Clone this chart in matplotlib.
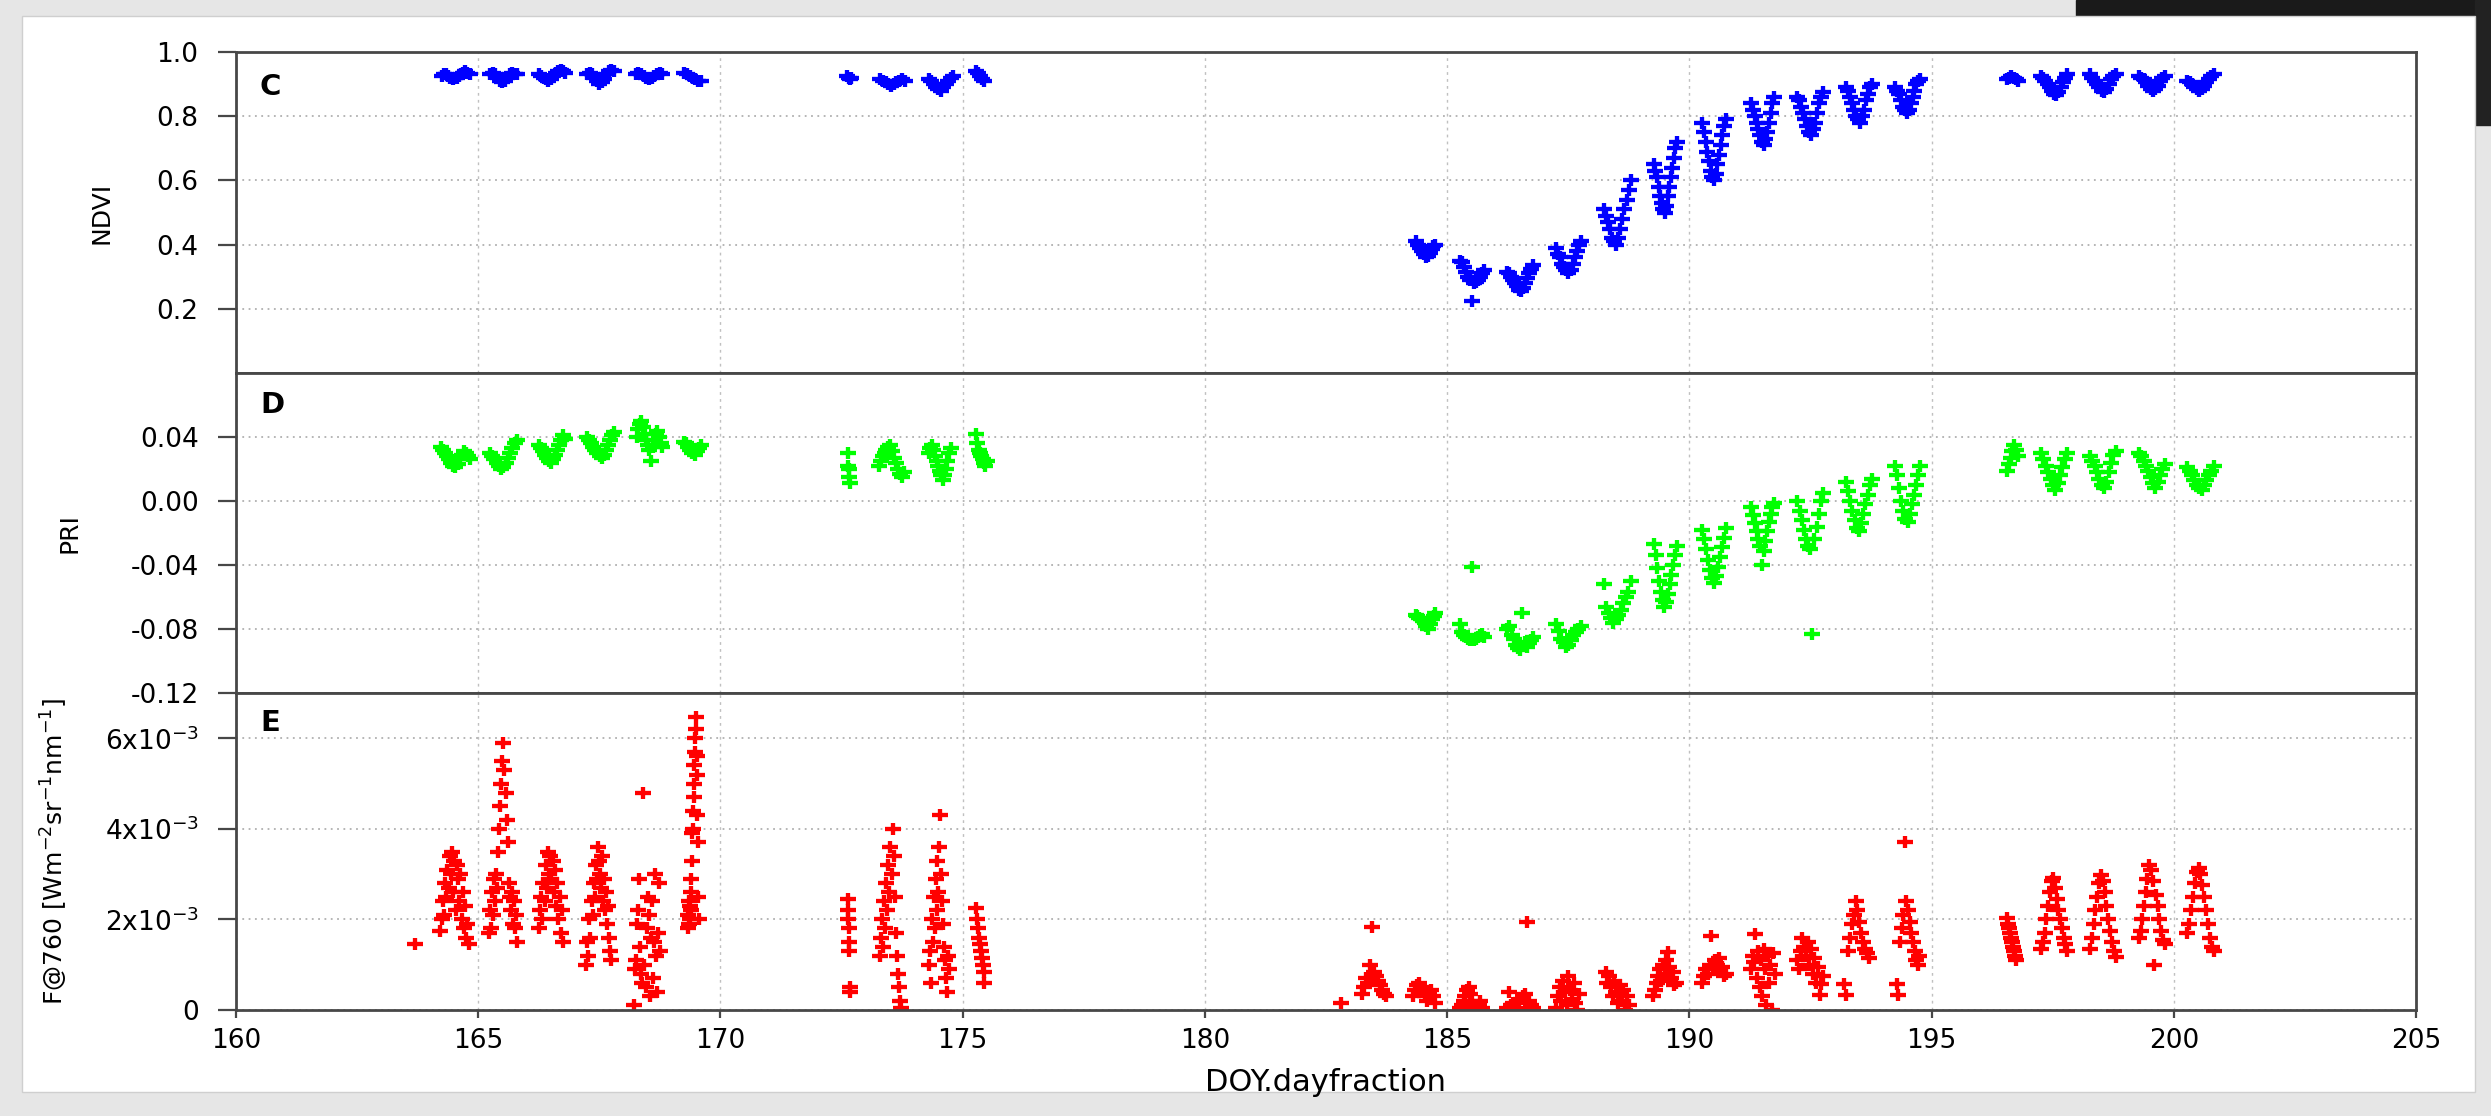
import numpy as np
import matplotlib
matplotlib.use("Agg")
import matplotlib.pyplot as plt
from matplotlib.patches import Rectangle
from matplotlib.path import Path

plt.rcParams['font.family'] = ['DejaVu Sans']
plt.rcParams['mathtext.fontset'] = 'dejavusans'

# ---- data: per-day clusters (start, end of daytime sampling, values in diurnal order)
ndvi_t0 = [164.25, 165.25, 166.25, 167.25, 168.25, 169.25, 172.62, 173.30, 174.30, 175.28,
           184.35, 185.27, 186.24, 187.25, 188.23, 189.27, 190.27, 191.28, 192.23, 193.23,
           194.24, 196.55, 197.26, 198.27, 199.28, 200.28]
ndvi_t1 = [164.82, 165.80, 166.80, 167.80, 168.80, 169.60, 172.70, 173.80, 174.80, 175.45,
           184.76, 185.77, 186.78, 187.76, 188.79, 189.74, 190.75, 191.75, 192.76, 193.77,
           194.77, 196.79, 197.80, 198.80, 199.81, 200.82]
ndvi_vals = [
    [0.925, 0.93, 0.93, 0.925, 0.92, 0.915, 0.918, 0.92, 0.925, 0.93, 0.935, 0.94, 0.935, 0.93],
    [0.93, 0.935, 0.93, 0.92, 0.91, 0.905, 0.91, 0.92, 0.93, 0.935, 0.93, 0.93],
    [0.93, 0.925, 0.92, 0.915, 0.91, 0.915, 0.925, 0.935, 0.94, 0.945, 0.94, 0.935],
    [0.93, 0.935, 0.93, 0.92, 0.91, 0.90, 0.905, 0.915, 0.93, 0.94, 0.945, 0.94],
    [0.93, 0.935, 0.93, 0.925, 0.92, 0.915, 0.92, 0.925, 0.93, 0.935, 0.93],
    [0.935, 0.93, 0.925, 0.92, 0.915, 0.91, 0.91],
    [0.925, 0.92, 0.915, 0.92],
    [0.915, 0.91, 0.905, 0.90, 0.895, 0.90, 0.905, 0.91, 0.915, 0.91],
    [0.915, 0.91, 0.90, 0.89, 0.885, 0.88, 0.89, 0.90, 0.91, 0.92, 0.925],
    [0.94, 0.935, 0.925, 0.915, 0.91],
    [0.41, 0.40, 0.39, 0.38, 0.37, 0.36, 0.365, 0.375, 0.385, 0.395, 0.40],
    [0.35, 0.345, 0.33, 0.315, 0.30, 0.29, 0.225, 0.28, 0.285, 0.29, 0.30, 0.31, 0.32],
    [0.315, 0.31, 0.30, 0.29, 0.28, 0.27, 0.26, 0.255, 0.265, 0.28, 0.295, 0.31, 0.325, 0.335],
    [0.39, 0.37, 0.36, 0.34, 0.33, 0.32, 0.31, 0.32, 0.34, 0.36, 0.38, 0.40, 0.41],
    [0.51, 0.49, 0.47, 0.45, 0.42, 0.41, 0.40, 0.42, 0.45, 0.48, 0.51, 0.54, 0.57, 0.60],
    [0.65, 0.63, 0.61, 0.58, 0.55, 0.53, 0.51, 0.50, 0.52, 0.55, 0.58, 0.61, 0.64, 0.67, 0.70, 0.72],
    [0.78, 0.75, 0.72, 0.69, 0.66, 0.63, 0.61, 0.60, 0.62, 0.65, 0.68, 0.71, 0.74, 0.77, 0.79],
    [0.84, 0.82, 0.80, 0.78, 0.76, 0.74, 0.72, 0.71, 0.73, 0.75, 0.78, 0.81, 0.84, 0.86],
    [0.86, 0.85, 0.83, 0.81, 0.79, 0.77, 0.75, 0.74, 0.76, 0.78, 0.81, 0.84, 0.86, 0.875],
    [0.89, 0.88, 0.86, 0.84, 0.82, 0.80, 0.79, 0.78, 0.80, 0.82, 0.85, 0.87, 0.89, 0.90],
    [0.89, 0.88, 0.87, 0.85, 0.83, 0.82, 0.81, 0.82, 0.84, 0.86, 0.88, 0.90, 0.91, 0.915],
    [0.915, 0.92, 0.925, 0.92, 0.915, 0.91],
    [0.925, 0.92, 0.91, 0.90, 0.89, 0.88, 0.87, 0.865, 0.875, 0.89, 0.905, 0.92, 0.93],
    [0.93, 0.92, 0.91, 0.90, 0.89, 0.88, 0.875, 0.885, 0.90, 0.915, 0.925, 0.93],
    [0.925, 0.92, 0.915, 0.905, 0.895, 0.885, 0.88, 0.885, 0.895, 0.91, 0.92, 0.925],
    [0.91, 0.905, 0.90, 0.89, 0.885, 0.88, 0.885, 0.895, 0.905, 0.915, 0.925, 0.93],
]

pri_t0 = [164.23, 165.24, 166.25, 167.25, 168.27, 169.24, 172.63, 173.27, 174.30, 175.27,
          184.35, 185.27, 186.24, 187.25, 188.23, 189.27, 190.27, 191.28, 192.23, 193.23,
          194.24, 196.55, 197.26, 198.27, 199.28, 200.28]
pri_t1 = [164.83, 165.80, 166.80, 167.80, 168.80, 169.60, 172.67, 173.78, 174.75, 175.50,
          184.76, 185.77, 186.78, 187.76, 188.79, 189.74, 190.75, 191.75, 192.76, 193.77,
          194.77, 196.79, 197.80, 198.80, 199.81, 200.82]
pri_vals = [
    [0.034, 0.032, 0.030, 0.028, 0.026, 0.024, 0.022, 0.021, 0.023, 0.026, 0.029, 0.031, 0.030, 0.028, 0.026],
    [0.030, 0.028, 0.026, 0.024, 0.022, 0.020, 0.021, 0.024, 0.027, 0.030, 0.033, 0.036, 0.038],
    [0.035, 0.033, 0.031, 0.029, 0.027, 0.025, 0.024, 0.026, 0.029, 0.032, 0.035, 0.038, 0.041, 0.039],
    [0.040, 0.038, 0.036, 0.034, 0.032, 0.030, 0.028, 0.027, 0.029, 0.032, 0.035, 0.038, 0.041, 0.043],
    [0.040, 0.045, 0.048, 0.050, 0.046, 0.042, 0.038, 0.035, 0.032, 0.025, 0.034, 0.038, 0.042, 0.044, 0.040, 0.036, 0.034],
    [0.037, 0.036, 0.034, 0.032, 0.030, 0.029, 0.031, 0.033, 0.035],
    [0.030, 0.022, 0.020, 0.015, 0.011],
    [0.022, 0.025, 0.028, 0.030, 0.032, 0.034, 0.035, 0.031, 0.027, 0.024, 0.020, 0.017, 0.015, 0.018],
    [0.030, 0.033, 0.035, 0.032, 0.028, 0.025, 0.022, 0.019, 0.016, 0.013, 0.016, 0.020, 0.025, 0.030, 0.033],
    [0.042, 0.036, 0.032, 0.030, 0.028, 0.026, 0.024, 0.022, 0.025],
    [-0.071, -0.072, -0.073, -0.074, -0.075, -0.076, -0.078, -0.080, -0.077, -0.074, -0.072, -0.070],
    [-0.077, -0.082, -0.084, -0.085, -0.086, -0.087, -0.041, -0.087, -0.086, -0.085, -0.084, -0.083, -0.085],
    [-0.080, -0.078, -0.084, -0.086, -0.090, -0.092, -0.093, -0.070, -0.088, -0.091, -0.089, -0.087, -0.085],
    [-0.077, -0.081, -0.086, -0.088, -0.091, -0.090, -0.087, -0.084, -0.082, -0.080, -0.078],
    [-0.052, -0.066, -0.070, -0.073, -0.076, -0.074, -0.071, -0.068, -0.064, -0.060, -0.057, -0.050],
    [-0.027, -0.034, -0.042, -0.050, -0.057, -0.062, -0.066, -0.063, -0.058, -0.052, -0.046, -0.040, -0.034, -0.028],
    [-0.018, -0.024, -0.030, -0.037, -0.043, -0.048, -0.051, -0.047, -0.041, -0.035, -0.029, -0.023, -0.017],
    [-0.004, -0.009, -0.014, -0.019, -0.024, -0.028, -0.040, -0.031, -0.025, -0.019, -0.013, -0.008, -0.004, -0.001],
    [0.000, -0.006, -0.012, -0.018, -0.024, -0.028, -0.030, -0.083, -0.024, -0.016, -0.008, 0.000, 0.005],
    [0.012, 0.006, 0.000, -0.006, -0.012, -0.017, -0.019, -0.014, -0.008, -0.002, 0.004, 0.010, 0.014],
    [0.022, 0.016, 0.008, 0.000, -0.006, -0.011, -0.013, -0.008, -0.002, 0.004, 0.010, 0.016, 0.022],
    [0.019, 0.023, 0.027, 0.031, 0.035, 0.032, 0.028],
    [0.030, 0.026, 0.022, 0.018, 0.014, 0.010, 0.007, 0.011, 0.016, 0.021, 0.026, 0.030],
    [0.028, 0.025, 0.022, 0.018, 0.014, 0.010, 0.008, 0.012, 0.018, 0.024, 0.029, 0.031],
    [0.030, 0.028, 0.025, 0.022, 0.019, 0.015, 0.011, 0.008, 0.012, 0.016, 0.020, 0.023],
    [0.021, 0.019, 0.016, 0.013, 0.010, 0.008, 0.007, 0.010, 0.013, 0.016, 0.019, 0.022],
]

# F@760 in units of 1e-3 W m-2 sr-1 nm-1
f_t0 = [163.69, 164.22, 165.22, 166.25, 167.23, 168.22, 169.33, 172.63, 173.30, 174.30, 175.28,
        182.80, 183.25, 184.30, 185.27, 186.24, 187.25, 188.27, 189.26, 190.27, 191.28, 192.23,
        193.20, 194.28, 196.55, 197.26, 198.27, 199.28, 200.28]
f_t1 = [163.69, 164.80, 165.80, 166.75, 167.75, 168.75, 169.55, 172.67, 173.72, 174.72, 175.45,
        182.80, 183.74, 184.75, 185.72, 186.78, 187.72, 188.75, 189.72, 190.75, 191.76, 192.76,
        193.70, 194.75, 196.75, 197.80, 198.80, 199.81, 200.82]
f_vals = [
    [1.45],
    [1.75, 2.0, 2.4, 2.1, 2.8, 2.5, 3.1, 2.7, 3.4, 3.0, 3.5, 2.6, 3.3, 2.2, 3.2, 2.9, 2.4, 3.0, 2.0, 2.6, 1.8, 2.3, 1.6, 1.9, 1.45],
    [1.7, 2.2, 1.8, 2.6, 2.1, 2.9, 2.4, 3.0, 2.7, 3.5, 4.0, 4.5, 5.0, 5.5, 5.9, 5.3, 4.8, 4.2, 3.7, 2.8, 2.5, 2.2, 2.6, 1.9, 2.4, 1.8, 2.1, 1.5],
    [1.8, 2.2, 2.5, 2.0, 2.8, 2.4, 3.2, 2.7, 3.5, 3.0, 3.4, 2.9, 3.3, 2.6, 3.1, 2.3, 2.8, 2.0, 2.5, 1.7, 2.2, 1.5],
    [1.0, 1.5, 1.2, 2.0, 1.6, 2.4, 2.1, 2.8, 2.5, 3.2, 2.9, 3.6, 3.3, 3.0, 2.7, 3.4, 2.4, 2.9, 2.2, 2.6, 1.9, 2.3, 1.6, 1.3, 1.1],
    [0.1, 0.9, 1.1, 1.9, 2.2, 2.9, 1.4, 0.8, 0.6, 4.8, 1.0, 0.5, 1.8, 2.5, 2.1, 0.3, 1.6, 2.4, 0.7, 1.5, 3.0, 1.2, 0.4, 1.7, 2.8, 1.3],
    [1.8, 2.1, 2.4, 1.9, 2.3, 2.0, 2.6, 2.2, 2.9, 3.3, 3.9, 4.0, 4.4, 4.7, 5.0, 5.4, 5.7, 6.0, 6.2, 6.46, 5.6, 5.2, 4.3, 3.7, 2.5, 2.0],
    [2.45, 2.2, 2.0, 1.8, 1.5, 1.3, 0.5, 0.4],
    [1.2, 1.6, 2.0, 1.4, 2.4, 1.8, 2.8, 2.2, 3.2, 2.6, 3.6, 3.0, 4.0, 3.4, 2.5, 1.7, 1.2, 0.8, 0.5, 0.2, 0.05],
    [1.0, 1.3, 0.6, 2.0, 1.5, 2.5, 1.8, 2.9, 2.2, 3.3, 2.6, 3.6, 4.3, 3.0, 2.4, 1.9, 1.4, 1.1, 0.7, 0.4, 1.2, 0.9],
    [2.25, 2.0, 1.8, 1.6, 1.45, 1.3, 1.15, 1.0, 0.85, 0.6],
    [0.15],
    [0.35, 0.5, 0.7, 0.6, 1.0, 1.84, 0.85, 0.75, 0.65, 0.55, 0.45, 0.35, 0.3],
    [0.3, 0.45, 0.55, 0.6, 0.5, 0.4, 0.3, 0.2, 0.35, 0.45, 0.3, 0.15],
    [0.05, 0.1, 0.2, 0.3, 0.45, 0.5, 0.35, 0.2, 0.1, 0.05, 0.0, 0.1, 0.2, 0.05],
    [0.05, 0.4, 0.1, 0.15, 0.0, 0.05, 0.2, 0.25, 0.3, 0.35, 1.95, 0.2, 0.1, 0.05],
    [0.05, 0.3, 0.5, 0.2, 0.65, 0.4, 0.1, 0.75, 0.45, 0.25, 0.6, 0.15, 0.0, 0.35],
    [0.85, 0.6, 0.75, 0.5, 0.3, 0.65, 0.4, 0.15, 0.55, 0.2, 0.45, 0.0, 0.3, 0.1],
    [0.3, 0.45, 0.6, 0.75, 0.9, 0.65, 1.0, 0.8, 1.1, 1.28, 0.95, 0.7, 0.85, 0.55, 0.6],
    [0.6, 0.75, 0.9, 0.8, 1.0, 1.64, 0.95, 1.1, 1.0, 1.15, 0.85, 0.95, 0.75, 0.8],
    [0.9, 1.2, 1.05, 1.68, 0.7, 1.3, 0.5, 1.1, 0.3, 1.35, 0.9, 0.1, 1.2, 0.6, 1.0, 0.0, 1.25, 0.8],
    [1.1, 0.9, 1.3, 1.6, 1.4, 1.2, 1.5, 1.0, 1.35, 0.8, 1.15, 0.6, 0.95, 0.33, 0.58, 0.75],
    [0.58, 0.33, 1.3, 1.6, 1.9, 2.1, 2.41, 2.2, 1.95, 1.7, 1.5, 1.35, 1.25, 1.15],
    [0.58, 0.33, 1.5, 1.8, 2.1, 3.7, 2.4, 2.2, 1.95, 1.7, 1.5, 1.3, 1.1, 0.99, 1.2],
    [2.04, 1.9, 1.8, 1.7, 1.6, 1.5, 1.4, 1.3, 1.2, 1.1],
    [1.35, 1.5, 1.7, 2.0, 2.3, 2.6, 2.85, 2.92, 2.7, 2.45, 2.2, 2.0, 1.8, 1.6, 1.45, 1.3],
    [1.35, 1.6, 1.9, 2.2, 2.5, 2.8, 2.99, 2.85, 2.6, 2.3, 2.0, 1.75, 1.5, 1.3, 1.17],
    [1.6, 1.75, 2.0, 2.3, 2.6, 2.9, 3.21, 3.1, 2.85, 0.99, 2.55, 2.3, 2.0, 1.75, 1.55, 1.46],
    [1.7, 1.9, 2.2, 2.5, 2.8, 3.05, 3.14, 3.0, 2.75, 2.5, 2.2, 1.9, 1.6, 1.4, 1.31],
]


def flatten(t0s, t1s, vals, scale=1.0):
    xs, ys = [], []
    for a, b, v in zip(t0s, t1s, vals):
        xs.extend(np.linspace(a, b, len(v)))
        ys.extend(np.asarray(v) * scale)
    return np.array(xs), np.array(ys)


W, H = 2491, 1116
fig = plt.figure(figsize=(W / 100, H / 100), dpi=100)
fig.patch.set_facecolor('#e6e6e6')
# screenshot frame
fig.add_artist(Rectangle((2076 / W, 1 - 18 / H), 1, 18 / H, transform=fig.transFigure,
                         color='#1a1a1a', zorder=-3))
fig.add_artist(Rectangle((2475 / W, 1 - 125 / H), 16 / W, 125 / H, transform=fig.transFigure,
                         color='#222222', zorder=-3))
fig.add_artist(Rectangle((22 / W, 1 - 1092 / H), (2475 - 22) / W, (1092 - 16) / H,
                         transform=fig.transFigure, facecolor='white', edgecolor='#cfcfcf',
                         lw=1, zorder=-2))

left, right = 236 / W, 2416 / W
bounds = [(52, 373), (373, 693), (693, 1010)]
axes = []
for top, bot in bounds:
    ax = fig.add_axes([left, 1 - bot / H, right - left, (bot - top) / H])
    axes.append(ax)
axC, axD, axE = axes

# slightly wide plus sign (the source image is stretched horizontally)
plus = Path([(-1.3, 0), (1.3, 0), (0, -1), (0, 1)],
            [Path.MOVETO, Path.LINETO, Path.MOVETO, Path.LINETO])
mk = dict(marker=plus, linestyle='none', markersize=11, markeredgewidth=3.1)
x, y = flatten(ndvi_t0, ndvi_t1, ndvi_vals)
axC.plot(x, y, color='#0000ff', **mk)
x, y = flatten(pri_t0, pri_t1, pri_vals)
axD.plot(x, y, color='#00ff00', **mk)
x, y = flatten(f_t0, f_t1, f_vals, 1e-3)
axE.plot(x, y, color='#ff0000', **mk)

axC.set_ylim(0, 1.0)
axC.set_yticks([0.2, 0.4, 0.6, 0.8, 1.0])
axC.set_yticklabels(['0.2', '0.4', '0.6', '0.8', '1.0'])
axD.set_ylim(-0.12, 0.08)
axD.set_yticks([-0.12, -0.08, -0.04, 0.0, 0.04])
axD.set_yticklabels(['-0.12', '-0.08', '-0.04', '0.00', '0.04'])
axE.set_ylim(0, 7e-3)
axE.set_yticks([0, 2e-3, 4e-3, 6e-3])
axE.set_yticklabels(['0', r'2x10$^{-3}$', r'4x10$^{-3}$', r'6x10$^{-3}$'])

for ax in axes:
    ax.set_xlim(160, 205)
    ax.set_xticks(np.arange(160, 206, 5))
    for s in ax.spines.values():
        s.set_color('#474747')
        s.set_linewidth(2.0)
    ax.tick_params(axis='y', direction='out', length=13, width=1.6, color='#474747',
                   labelsize=19, pad=14)
    ax.tick_params(axis='x', direction='out', length=6, width=1.6, color='#474747',
                   labelsize=19, pad=7)
    ax.grid(True, axis='y', color='#b0b0b0', linestyle=(0, (1, 2.5)), linewidth=1.3)
    ax.grid(True, axis='x', color='#c0c0c0', linestyle=(0, (2, 3)), linewidth=1.0)
    ax.set_axisbelow(True)
axC.tick_params(axis='x', labelbottom=False, length=0)
axD.tick_params(axis='x', labelbottom=False, length=0)

axC.set_ylabel('NDVI', fontsize=18)
axC.yaxis.set_label_coords(-0.056, 0.5)
axD.set_ylabel('PRI', fontsize=18)
axD.yaxis.set_label_coords(-0.071, 0.5)
axE.set_ylabel(r'F@760 [Wm$^{-2}$sr$^{-1}$nm$^{-1}$]', fontsize=18)
axE.yaxis.set_label_coords(-0.076, 0.5)
axE.set_xlabel('DOY.dayfraction', fontsize=22, labelpad=10)

for ax, letter, yy in [(axC, 'C', 0.89), (axD, 'D', 0.90), (axE, 'E', 0.905)]:
    ax.text(0.011, yy, letter, transform=ax.transAxes, fontsize=21, fontweight='bold',
            ha='left', va='center')

fig.savefig('out.png', dpi=100, facecolor=fig.get_facecolor())
plt.close(fig)
